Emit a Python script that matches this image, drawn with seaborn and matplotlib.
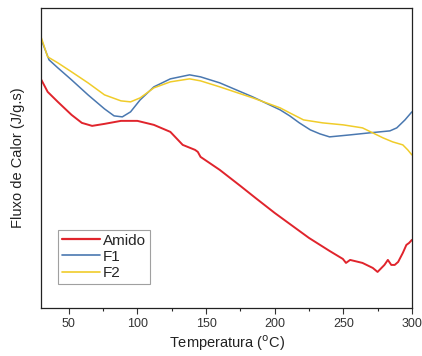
import matplotlib
matplotlib.use("Agg")
import matplotlib.pyplot as plt
from matplotlib.ticker import MultipleLocator
import seaborn as sns
import pandas as pd

# valores (unidades arbitrárias)
amido_t = [30, 34.6, 42, 52, 59.5, 67, 76, 88, 100, 112, 124, 133, 142, 144, 146, 160,
           175, 186, 200, 211, 225, 240, 249.7, 252, 255, 264, 271.5, 275, 280, 282.5, 285,
           287.5, 290, 293.4, 296, 298, 300]
amido_f = [228, 216, 206, 193, 185, 182, 184, 187, 187, 183, 176, 163, 158, 156, 151, 138,
           122, 110, 95, 84, 70, 57, 49, 45, 48, 45, 40, 36, 43, 48, 43,
           43, 46, 55, 63, 65, 68]

f1_t = [30, 35.6, 42, 52, 64, 76, 83, 89, 95, 102, 112, 124, 138, 146, 160,
        184, 204, 211, 218, 226, 233, 240, 255, 269, 284, 289, 295, 300]
f1_f = [268, 248, 240, 228, 213, 199, 192, 191, 196, 208, 221, 229, 233, 231, 225,
        211, 198, 192, 185, 178, 174, 171, 173, 175, 177, 180, 188, 196]

f2_t = [30, 34.6, 42, 52, 64, 76, 88, 95, 102, 112, 124, 138, 146, 160,
        184, 204, 211, 221, 235, 250, 264, 271.5, 279, 286, 293.4, 297, 300]
f2_f = [270, 251, 245, 236, 225, 213, 207, 206, 210, 220, 226, 229, 227, 221,
        210, 200, 195, 188, 185, 183, 180, 175, 170, 166, 163, 158, 153]

PALETTE = {"Amido": "#e0242c", "F1": "#4a78b0", "F2": "#f0cc2a"}


def build_frame():
    parts = []
    for nome, t, f in [("Amido", amido_t, amido_f), ("F1", f1_t, f1_f), ("F2", f2_t, f2_f)]:
        parts.append(pd.DataFrame({"temp": t, "fluxo": f, "amostra": nome}))
    return pd.concat(parts, ignore_index=True)


df = build_frame()

sns.set_style("white")
plt.rcParams["font.family"] = ["Liberation Sans", "DejaVu Sans"]

fig, ax = plt.subplots(figsize=(4.22, 3.56), dpi=100)
sns.lineplot(data=df, x="temp", y="fluxo", hue="amostra", palette=PALETTE,
             sort=False, estimator=None, ax=ax, linewidth=1.1)
ax.get_lines()[0].set_linewidth(1.4)

ax.set_xlim(30, 300)
ax.set_ylim(0, 300)
ax.set_yticks([])
ax.xaxis.set_major_locator(MultipleLocator(50))
ax.xaxis.set_minor_locator(MultipleLocator(25))
ax.tick_params(axis="x", which="major", direction="out", length=4, width=0.8,
               bottom=True, labelsize=9, colors="#333333", pad=3)
ax.tick_params(axis="x", which="minor", direction="out", length=2, width=0.8, bottom=True)
for s in ax.spines.values():
    s.set_color("#222222")
    s.set_linewidth(0.9)

ax.set_xlabel("Temperatura ($^\\mathrm{o}$C)", fontsize=10.5, color="#222222", labelpad=3)
ax.set_ylabel("Fluxo de Calor (J/g.s)", fontsize=10.5, color="#222222", labelpad=12)

leg = ax.legend(loc="lower left", bbox_to_anchor=(0.045, 0.08), fontsize=11,
                frameon=True, fancybox=False, handlelength=2.5, handletextpad=0.2,
                borderpad=0.25, labelspacing=0.15, borderaxespad=0)
leg.get_frame().set_edgecolor("#888888")
leg.get_frame().set_linewidth(0.8)
for h in leg.get_lines():
    h.set_linewidth(1.2)
leg.get_lines()[0].set_linewidth(1.6)

fig.subplots_adjust(left=0.098, right=0.976, top=0.978, bottom=0.135)
fig.savefig("out.png", dpi=100)
plt.close(fig)
